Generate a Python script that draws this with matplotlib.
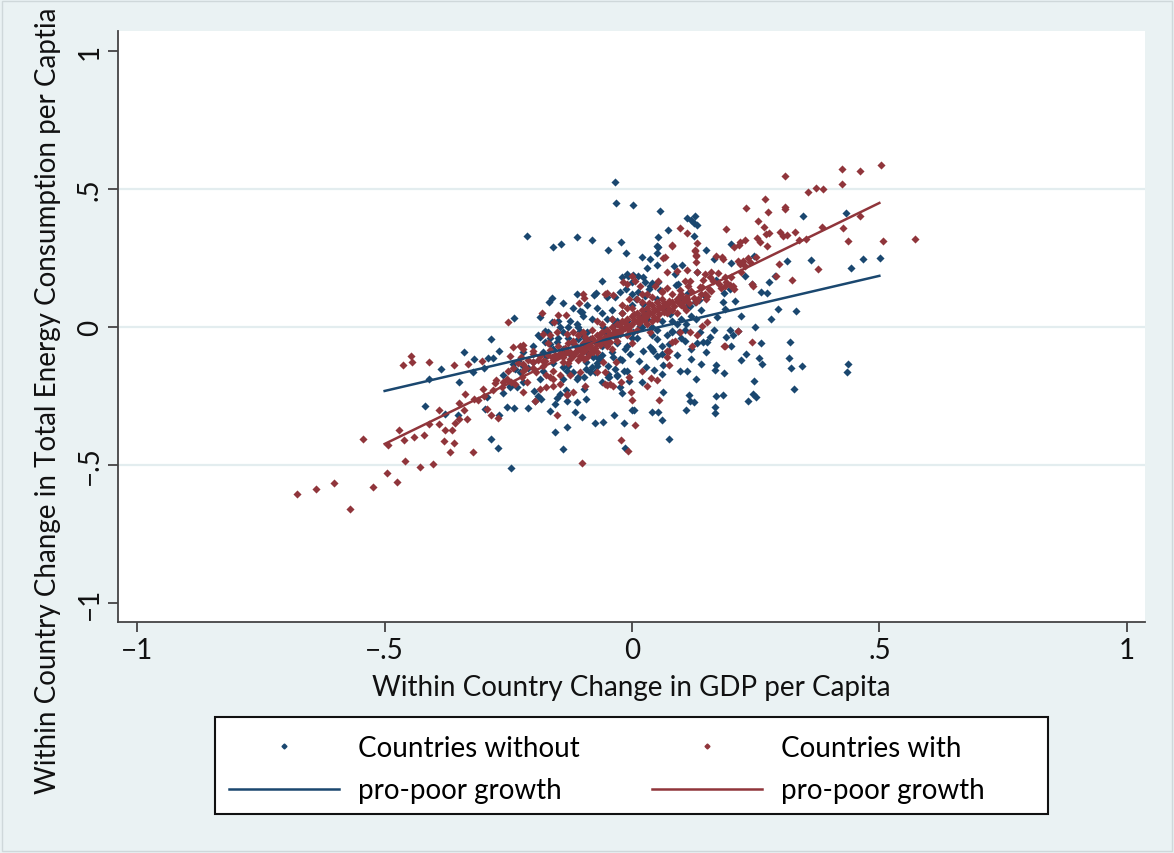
import matplotlib
matplotlib.use("Agg")
import numpy as np
import matplotlib.pyplot as plt
from matplotlib.lines import Line2D
from matplotlib.patches import Rectangle

plt.rcParams['font.family'] = ['Lato', 'DejaVu Sans']

# ---- data: (GDP change, energy change) ----
without_points = [
    (-0.213, 0.330), (-0.160, 0.289), (-0.144, 0.301), (-0.111, 0.325), (-0.080, 0.316), (-0.049, 0.277),
    (-0.061, 0.168), (-0.168, 0.092), (-0.161, 0.106), (-0.140, 0.086), (-0.111, 0.120), (-0.077, 0.116),
    (-0.073, 0.122), (-0.238, 0.031), (-0.285, -0.045), (-0.340, -0.092), (-0.268, -0.088),
    (-0.034, 0.524), (-0.033, 0.449), (0.003, 0.441), (0.057, 0.420), (0.111, 0.395), (0.119, 0.389),
    (0.127, 0.401), (0.126, 0.377), (0.131, 0.370), (0.073, 0.351), (-0.023, 0.308), (-0.013, 0.269),
    (0.053, 0.327), (0.052, 0.289), (0.051, 0.267), (0.020, 0.252), (0.036, 0.246), (0.030, 0.215),
    (0.085, 0.222), (0.101, 0.225), (0.126, 0.331), (0.132, 0.198), (0.165, 0.246), (0.200, 0.231),
    (0.247, 0.257), (0.229, 0.185), (0.198, 0.138), (0.289, 0.184), (0.276, 0.163), (0.313, 0.239),
    (0.346, 0.400), (0.361, 0.243), (0.433, 0.413), (0.442, 0.213), (0.466, 0.245), (0.502, 0.248),
    (0.272, 0.123), (0.295, 0.066), (0.332, 0.059), (0.249, -0.001), (0.319, -0.056), (0.230, -0.098),
    (0.185, 0.123), (0.183, 0.089), (0.165, -0.010), (0.198, -0.010), (0.205, -0.031), (0.215, -0.013),
    (0.138, -0.019), (0.144, -0.056), (0.151, -0.053), (0.108, -0.050), (0.131, -0.059), (0.080, -0.013),
    (0.060, -0.068), (0.074, -0.062), (0.043, -0.086), (0.171, 0.035), (0.097, 0.089), (0.111, 0.077),
    (0.117, 0.077), (0.088, 0.152), (0.094, 0.156), (0.036, 0.150), (0.040, 0.159), (0.053, 0.162),
    (0.057, 0.132), (-0.021, 0.180), (-0.011, 0.192), (0.003, 0.188), (0.013, 0.186), (0.023, 0.180),
    (-0.051, 0.108), (-0.034, 0.108), (-0.024, 0.126), (-0.001, 0.120), (0.009, 0.101), (0.023, 0.083),
    (0.030, 0.059), (-0.041, 0.029), (-0.034, 0.011), (0.016, 0.005), (0.003, -0.019), (0.070, 0.065),
    (0.077, 0.047), (0.050, 0.292), (0.051, 0.225), (0.086, 0.193), (-0.008, 0.186), (-0.001, 0.162),
    (-0.012, 0.138), (0.026, 0.162), (0.034, 0.138), (0.113, 0.122), (0.135, 0.099), (0.148, 0.113),
    (0.127, 0.089), (0.188, 0.065), (0.242, 0.155), (0.261, 0.128), (0.208, 0.095), (0.013, 0.126),
    (0.026, 0.113), (0.050, 0.101),
    (-0.319, -0.118), (-0.291, -0.111), (-0.280, -0.111), (-0.386, -0.152), (-0.322, -0.164),
    (-0.411, -0.188), (-0.419, -0.286), (-0.352, -0.319), (-0.377, -0.315), (-0.297, -0.297),
    (-0.294, -0.255), (-0.268, -0.319), (-0.253, -0.289), (-0.238, -0.295), (-0.285, -0.406),
    (-0.270, -0.438), (-0.245, -0.511), (-0.246, -0.217), (-0.233, -0.219), (-0.221, -0.200),
    (-0.210, -0.295), (-0.196, -0.267), (-0.198, -0.231), (-0.183, -0.261), (-0.165, -0.303),
    (-0.156, -0.279), (-0.152, -0.258), (-0.146, -0.243), (-0.133, -0.227), (-0.155, -0.382),
    (-0.131, -0.363), (-0.140, -0.442), (-0.115, -0.307), (-0.101, -0.327), (-0.097, -0.225),
    (-0.092, -0.261), (-0.075, -0.348), (-0.058, -0.343), (-0.240, -0.134), (-0.230, -0.122),
    (-0.220, -0.140), (-0.226, -0.164), (-0.210, -0.150), (-0.200, -0.128), (-0.176, -0.056),
    (-0.166, -0.062), (-0.152, -0.056), (-0.139, -0.080), (-0.125, -0.098), (-0.173, -0.104),
    (-0.092, -0.128), (-0.081, -0.146), (-0.075, -0.164), (-0.085, -0.164), (-0.065, -0.116),
    (-0.048, -0.182), (-0.186, -0.188), (-0.132, -0.158), (-0.112, -0.188),
    (-0.237, -0.152), (-0.260, -0.176), (-0.247, -0.213), (-0.190, -0.249), (-0.185, -0.037),
    (-0.176, -0.013), (-0.166, -0.040), (-0.146, -0.001), (-0.139, -0.146), (-0.129, -0.140),
    (-0.119, -0.164), (-0.109, -0.182), (-0.098, -0.182), (-0.078, -0.110), (-0.092, -0.152),
    (-0.071, -0.140), (-0.132, -0.267), (-0.112, -0.273), (-0.048, -0.170), (-0.031, -0.176),
    (-0.024, -0.219), (-0.011, -0.158), (-0.058, -0.001), (-0.051, -0.025), (-0.092, -0.062),
    (-0.085, -0.043), (-0.105, -0.013), (-0.098, -0.037), (-0.185, 0.035), (-0.162, 0.019),
    (-0.105, 0.059), (-0.102, 0.055), (-0.126, 0.023), (-0.112, 0.011),
    (0.318, -0.112), (0.322, -0.150), (0.343, -0.140), (0.437, -0.133), (0.435, -0.164), (0.328, -0.224),
    (0.221, -0.120), (0.257, -0.111), (0.263, -0.134), (0.247, -0.196), (0.234, -0.268), (0.245, -0.244),
    (0.251, -0.255), (0.191, -0.035), (0.169, -0.138), (0.168, -0.156), (0.186, -0.167), (0.169, -0.252),
    (0.184, -0.246), (0.168, -0.290), (0.168, -0.312), (0.140, -0.135), (0.119, -0.118), (0.129, -0.188),
    (0.098, -0.161), (0.112, -0.161), (0.116, -0.246), (0.117, -0.269), (0.126, -0.273), (0.109, -0.302),
    (0.062, -0.237), (0.061, -0.337), (0.075, -0.407), (0.040, -0.309), (0.052, -0.307), (0.000, -0.301),
    (0.004, -0.302), (-0.016, -0.349), (-0.037, -0.318), (-0.014, -0.438), (0.063, -0.137),
    (0.045, -0.156), (0.028, -0.145), (0.014, -0.122), (-0.047, -0.180), (-0.030, -0.178),
    (-0.007, -0.197), (-0.016, -0.161), (0.095, -0.017), (0.107, -0.011), (0.040, -0.080),
    (0.060, -0.098), (0.050, -0.104), (0.158, -0.037), (-0.004, -0.098), (-0.014, -0.080),
    (0.023, -0.086), (0.036, -0.074), (-0.038, -0.110), (-0.024, -0.116), (-0.048, -0.140),
    (-0.034, -0.152),
    (-0.12, -0.06), (-0.10, -0.03), (-0.08, -0.09), (-0.06, -0.07), (-0.05, 0.03), (-0.03, -0.06),
    (-0.02, 0.05), (0.00, -0.04), (0.02, 0.00), (0.04, -0.03), (0.06, 0.02), (-0.10, 0.04), (-0.07, 0.07),
    (-0.13, 0.00), (0.00, 0.08), (-0.04, -0.09), (0.08, -0.02), (0.10, 0.03), (-0.15, -0.04),
    (-0.02, -0.12), (0.05, -0.045), (-0.09, -0.02), (-0.11, -0.045), (-0.07, -0.11), (-0.01, 0.02),
    (0.03, 0.03), (-0.06, 0.05), (0.09, 0.01), (0.12, 0.04), (-0.16, -0.08), (-0.14, -0.02),
    (-0.18, -0.09), (-0.20, -0.07), (-0.22, -0.09), (-0.19, -0.03),
    (-0.13, -0.04), (-0.11, 0.00), (-0.09, -0.09), (-0.07, -0.13), (-0.06, -0.10), (-0.05, -0.05),
    (-0.04, 0.06), (-0.03, 0.02), (-0.01, -0.07), (0.01, -0.04), (0.02, 0.04), (0.04, 0.00),
    (0.05, -0.01), (0.07, -0.03), (0.08, 0.02), (0.10, -0.04), (0.11, 0.01), (0.13, 0.03), (0.14, 0.06),
    (-0.17, -0.02), (-0.15, 0.02), (-0.12, 0.07), (-0.09, 0.08), (-0.08, 0.03), (-0.16, -0.13),
    (-0.18, -0.16), (-0.14, -0.19), (-0.06, -0.20), (-0.02, -0.24), (0.02, -0.20), (0.06, -0.17),
    (0.09, -0.10), (0.12, -0.08), (0.15, -0.09), (0.20, -0.07), (0.26, -0.06), (0.28, 0.03),
    (0.22, 0.04), (0.17, 0.17), (0.15, 0.28), (0.20, 0.30), (-0.26, -0.24), (-0.30, -0.15),
    (-0.35, -0.20),
]

with_points = [
    (-0.251, 0.018), (-0.446, -0.104), (-0.181, 0.050), (-0.150, 0.043), (-0.134, 0.043), (-0.100, 0.120),
    (-0.097, 0.104), (-0.055, 0.118),
    (0.504, 0.588), (0.425, 0.571), (0.461, 0.566), (0.310, 0.547), (0.425, 0.518), (0.355, 0.488),
    (0.372, 0.505), (0.386, 0.500), (0.268, 0.464), (0.231, 0.432), (0.309, 0.434), (0.310, 0.428),
    (0.274, 0.418), (0.254, 0.383), (0.191, 0.355), (0.266, 0.363), (0.270, 0.337), (0.276, 0.341),
    (0.299, 0.343), (0.305, 0.329), (0.313, 0.333), (0.329, 0.345), (0.385, 0.361), (0.426, 0.358),
    (0.437, 0.312), (0.461, 0.401), (0.507, 0.313), (0.573, 0.319), (0.352, 0.319), (0.338, 0.314),
    (0.376, 0.209), (0.324, 0.171), (0.298, 0.228), (0.291, 0.186), (0.252, 0.322), (0.259, 0.309),
    (0.272, 0.292), (0.229, 0.315), (0.218, 0.307), (0.206, 0.289), (0.217, 0.295), (0.234, 0.250),
    (0.224, 0.240), (0.218, 0.228), (0.229, 0.222), (0.243, 0.156), (0.245, 0.147), (0.183, 0.246),
    (0.173, 0.196), (0.158, 0.180), (0.144, 0.171), (0.191, 0.162), (0.198, 0.152), (0.205, 0.150),
    (0.187, 0.150), (0.131, 0.304), (0.129, 0.256), (0.127, 0.277), (0.111, 0.341), (0.097, 0.359),
    (0.081, 0.292), (0.063, 0.251), (0.070, 0.198), (0.090, 0.204), (0.112, 0.207), (0.117, 0.168),
    (0.138, 0.144), (0.134, 0.101), (0.151, 0.113), (0.097, 0.113), (0.111, 0.101), (0.104, 0.077),
    (0.151, 0.017), (0.141, 0.005), (0.097, -0.019), (0.117, -0.019), (0.131, -0.031), (0.087, -0.050),
    (0.080, -0.056), (0.187, -0.068), (0.242, -0.056), (0.070, -0.086), (0.036, -0.019),
    (0.080, 0.295), (0.127, 0.275), (0.129, 0.261), (0.067, 0.252), (0.169, 0.258), (0.181, 0.252),
    (0.129, 0.234), (0.131, 0.200), (0.215, 0.240), (0.239, 0.234), (0.251, 0.253), (0.148, 0.192),
    (0.188, 0.180), (0.164, 0.168), (0.175, 0.156), (0.206, 0.138), (0.107, 0.168), (0.114, 0.150),
    (0.097, 0.132), (0.141, 0.144), (0.155, 0.138), (0.148, 0.120), (0.053, 0.168), (0.046, 0.150),
    (0.060, 0.126), (-0.001, 0.186), (0.006, 0.168), (0.016, 0.150), (-0.007, 0.101),
    (-0.157, 0.019), (-0.107, 0.087), (-0.051, 0.122), (-0.038, 0.116), (-0.018, 0.162), (-0.010, 0.157),
    (-0.677, -0.605), (-0.638, -0.588), (-0.602, -0.566), (-0.570, -0.659), (-0.523, -0.579),
    (-0.496, -0.530), (-0.476, -0.563), (-0.543, -0.407), (-0.493, -0.426), (-0.471, -0.374),
    (-0.459, -0.484), (-0.429, -0.506), (-0.402, -0.498), (-0.421, -0.390), (-0.390, -0.351),
    (-0.377, -0.372), (-0.363, -0.374), (-0.380, -0.415), (-0.359, -0.420), (-0.367, -0.453),
    (-0.322, -0.454), (-0.357, -0.348), (-0.350, -0.333), (-0.334, -0.333), (-0.350, -0.275),
    (-0.338, -0.243), (-0.462, -0.138), (-0.444, -0.126), (-0.410, -0.128), (-0.360, -0.138),
    (-0.331, -0.134), (-0.303, -0.124), (-0.302, -0.225), (-0.311, -0.264), (-0.294, -0.297),
    (-0.286, -0.319), (-0.270, -0.331), (-0.277, -0.203), (-0.263, -0.216), (-0.245, -0.198),
    (-0.237, -0.207), (-0.223, -0.182), (-0.220, -0.158), (-0.213, -0.200), (-0.247, -0.104),
    (-0.226, -0.068), (-0.220, -0.065), (-0.200, -0.098), (-0.179, -0.122), (-0.162, -0.110),
    (-0.196, -0.270), (-0.173, -0.219), (-0.151, -0.319), (-0.132, -0.245), (-0.119, -0.234),
    (-0.102, -0.493), (-0.173, -0.176), (-0.159, -0.188), (-0.146, -0.176), (-0.125, -0.176),
    (-0.105, -0.164), (-0.071, -0.164), (-0.055, -0.207), (-0.139, -0.128), (-0.119, -0.104),
    (-0.098, -0.116), (-0.078, -0.092),
    (-0.274, -0.194), (-0.253, -0.188), (-0.220, -0.237), (-0.186, -0.225), (-0.159, -0.213),
    (-0.146, -0.207), (-0.240, -0.074), (-0.220, -0.080), (-0.200, -0.086), (-0.179, -0.025),
    (-0.166, -0.031), (-0.152, -0.019), (-0.132, -0.025), (-0.119, -0.019), (-0.152, -0.110),
    (-0.139, -0.098), (-0.125, -0.092), (-0.112, -0.086), (-0.098, -0.080), (-0.085, -0.074),
    (-0.166, -0.182), (-0.159, -0.158), (-0.132, -0.243), (-0.095, -0.213), (-0.038, -0.213),
    (-0.220, -0.134), (-0.200, -0.128),
    (-0.022, -0.409), (-0.009, -0.449), (0.007, -0.354), (-0.003, -0.237), (0.001, -0.264),
    (0.055, -0.266), (0.030, -0.213), (0.038, -0.184), (0.051, -0.194), (0.020, -0.161), (0.075, -0.137),
    (0.075, -0.089), (0.070, -0.110), (0.185, -0.070), (0.121, -0.068), (-0.051, -0.210),
    (-0.044, -0.207), (-0.023, -0.198), (-0.007, -0.180), (-0.058, -0.128), (-0.055, -0.164),
    (-0.033, -0.126), (0.215, -0.013),
    (-0.14, -0.11), (-0.13, -0.09), (-0.12, -0.10), (-0.11, -0.08), (-0.10, -0.09), (-0.10, -0.06),
    (-0.09, -0.07), (-0.09, -0.05), (-0.08, -0.08), (-0.08, -0.04), (-0.07, -0.06), (-0.07, -0.03),
    (-0.06, -0.05), (-0.06, -0.02), (-0.05, -0.04), (-0.05, -0.01), (-0.04, -0.03), (-0.04, 0.00),
    (-0.03, -0.02), (-0.03, 0.01), (-0.02, -0.01), (-0.02, 0.02), (-0.01, 0.00), (-0.01, 0.03),
    (0.00, 0.01), (0.00, 0.04), (0.01, 0.02), (0.01, 0.05), (0.02, 0.03), (0.02, 0.06), (0.03, 0.04),
    (0.03, 0.07), (0.04, 0.05), (0.04, 0.08), (0.05, 0.06), (0.05, 0.09), (0.06, 0.07), (0.06, 0.10),
    (0.07, 0.08), (0.08, 0.09), (0.08, 0.06), (0.09, 0.10), (0.10, 0.08), (0.11, 0.11), (0.12, 0.13),
    (-0.13, -0.13), (-0.11, -0.12), (-0.09, -0.11), (-0.07, -0.09), (-0.05, -0.07), (-0.03, -0.05),
    (-0.01, -0.03), (0.01, -0.01), (0.03, 0.01), (0.05, 0.03), (0.07, 0.05), (-0.08, -0.01),
    (-0.06, 0.01), (-0.04, 0.03), (-0.02, 0.05), (0.00, 0.07), (0.02, 0.09), (0.04, 0.11),
    (-0.15, -0.07), (-0.12, -0.05), (-0.16, -0.12), (-0.18, -0.14), (-0.17, -0.10), (-0.20, -0.15),
    (-0.19, -0.12), (-0.115, -0.065), (-0.095, -0.035), (-0.075, -0.055), (-0.055, -0.035),
    (-0.035, -0.015), (-0.015, 0.015), (0.005, 0.025), (0.025, 0.045), (0.045, 0.065), (0.065, 0.085),
    (0.085, 0.075), (0.015, 0.035), (-0.025, 0.005), (-0.065, -0.045), (-0.105, -0.075), (0.035, 0.055),
    (0.055, 0.045), (-0.045, -0.055), (0.02, 0.12), (0.06, 0.13), (-0.02, 0.08), (0.09, 0.05),
    (-0.10, -0.02), (-0.13, -0.06), (-0.21, -0.12), (-0.23, -0.13), (-0.25, -0.16), (-0.17, -0.06),
    (0.10, 0.12), (0.13, 0.09),
    (-0.135, -0.075), (-0.125, -0.115), (-0.115, -0.095), (-0.105, -0.105), (-0.095, -0.085),
    (-0.085, -0.065), (-0.085, -0.095), (-0.075, -0.075), (-0.065, -0.065), (-0.065, -0.025),
    (-0.055, -0.055), (-0.045, -0.025), (-0.035, -0.035), (-0.025, -0.025), (-0.015, -0.005),
    (-0.005, 0.005), (-0.005, -0.015), (0.005, 0.045), (0.015, 0.015), (0.025, 0.025), (0.035, 0.085),
    (0.045, 0.035), (0.055, 0.075), (0.065, 0.055), (0.075, 0.095), (0.075, 0.065), (0.095, 0.085),
    (0.105, 0.095), (0.115, 0.085), (0.125, 0.105), (0.14, 0.12), (0.15, 0.10), (0.16, 0.13),
    (-0.145, -0.095), (-0.155, -0.10), (-0.165, -0.085), (-0.175, -0.125), (-0.185, -0.105),
    (-0.195, -0.165), (-0.215, -0.15), (-0.225, -0.11), (-0.24, -0.15), (-0.26, -0.20), (-0.28, -0.23),
    (-0.30, -0.25), (-0.32, -0.26), (-0.34, -0.30), (-0.39, -0.30), (-0.41, -0.35), (-0.44, -0.40),
    (-0.46, -0.41), (0.01, 0.10), (0.03, 0.12), (0.07, 0.14), (-0.01, 0.07), (0.08, 0.12), (0.11, 0.06),
    (-0.07, 0.02), (-0.11, -0.03), (-0.04, -0.08), (0.00, -0.06), (0.04, 0.02), (0.18, 0.14),
    (0.20, 0.18), (0.22, 0.20), (0.16, 0.20),
]

# fitted lines (endpoints of each linear fit)
fit_x = [-0.5, 0.5]
fit_without_y = [-0.232, 0.185]
fit_with_y = [-0.424, 0.449]

tick_values = [-1, -0.5, 0, 0.5, 1]
tick_labels = ['\u22121', '\u2212.5', '0', '.5', '1']
grid_values = [-0.5, 0, 0.5]

legend_labels = ['Countries without', 'pro-poor growth', 'Countries with', 'pro-poor growth']
xlabel = 'Within Country Change in GDP per Capita'
ylabel = 'Within Country Change in Total Energy Consumption per Captia'

BLUE = '#1a476f'
RED = '#90353b'
BG = '#eaf2f3'
FS = 20

W, H = 1174, 854
fig = plt.figure(figsize=(W / 100, H / 100), dpi=100, facecolor=BG)
ax = fig.add_axes([118 / W, 1 - 623 / H, (1145 - 118) / W, (623 - 32) / H])
ax.set_facecolor('white')

for g in grid_values:
    ax.axhline(g, color='#e3edef', lw=1.6, zorder=0)

wo = np.array(without_points)
wi = np.array(with_points)
ax.scatter(wo[:, 0], wo[:, 1], marker='D', s=17, color=BLUE, linewidths=0, zorder=3)
ax.scatter(wi[:, 0], wi[:, 1], marker='D', s=17, color=RED, linewidths=0, zorder=3)
ax.plot(fit_x, fit_without_y, color=BLUE, lw=1.8, zorder=4)
ax.plot(fit_x, fit_with_y, color=RED, lw=1.8, zorder=4)

ax.set_xlim(-1.039, 1.037)
ax.set_ylim(-1.069, 1.072)
ax.set_xticks(tick_values)
ax.set_xticklabels(tick_labels)
ax.set_yticks(tick_values)
ax.set_yticklabels(tick_labels, rotation=90, va='center')

for s in ['top', 'right']:
    ax.spines[s].set_visible(False)
for s in ['left', 'bottom']:
    ax.spines[s].set_color('#444444')
    ax.spines[s].set_linewidth(1.3)
ax.tick_params(axis='both', direction='out', length=7, width=1.3, color='#444444',
               labelsize=FS, labelcolor='#111111', pad=4)

ax.set_xlabel(xlabel, fontsize=FS, color='#111111', labelpad=8)
fig.text(48 / W, 1 - 401 / H, ylabel, rotation=90, ha='center', va='center',
         fontsize=FS, color='#111111')

# legend box
fig.patches.append(Rectangle((215 / W, 1 - 815 / H), (1048 - 215) / W, (815 - 718) / H,
                             transform=fig.transFigure, facecolor='white', edgecolor='#111111',
                             lw=1.5, zorder=1))
handles = [
    Line2D([], [], marker='D', color=BLUE, ls='none', markersize=2.5),
    Line2D([], [], color=BLUE, lw=1.8),
    Line2D([], [], marker='D', color=RED, ls='none', markersize=2.5),
    Line2D([], [], color=RED, lw=1.8),
]
leg = fig.legend(handles, legend_labels, ncol=2, loc='center left',
                 bbox_to_anchor=(229 / W, 1 - 770 / H), frameon=False, fontsize=FS,
                 handlelength=3.96, handletextpad=0.68, columnspacing=2.6,
                 labelspacing=0.6, borderpad=0, borderaxespad=0)

# outer border
fig.patches.append(Rectangle((0.002, 0.002), 0.996, 0.996, transform=fig.transFigure,
                             fill=False, edgecolor='#cfd8da', lw=1))

fig.savefig('out.png', dpi=100, facecolor=BG)
